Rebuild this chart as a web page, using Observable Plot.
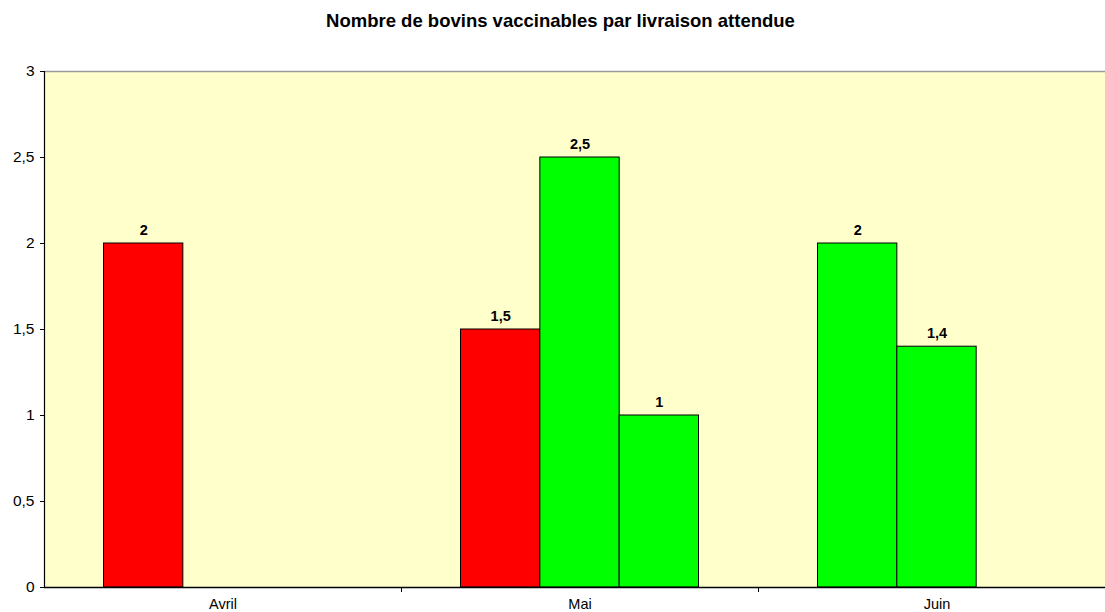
<!DOCTYPE html>
<html>
<head>
<meta charset="utf-8">
<script src="https://cdn.jsdelivr.net/npm/d3@7"></script>
<script src="https://cdn.jsdelivr.net/npm/@observablehq/plot@0.6"></script>
<style>
  html, body { margin: 0; padding: 0; background: #ffffff; overflow: hidden; }
  body { width: 1105px; height: 612px; position: relative; font-family: "Liberation Sans", Arial, sans-serif; }
  #title { position: absolute; top: 11px; left: 0; width: 1105px; padding-left: 16px; box-sizing: border-box;
           text-align: center; font-size: 18.5px; line-height: 20px; font-weight: bold; color: #000; }
  #chart { position: absolute; top: 56px; left: 0; }
</style>
</head>
<body>
<div id="title">Nombre de bovins vaccinables par livraison attendue</div>
<div id="chart"></div>
<script>
// Categories (months) and bars
const months = ["Avril", "Mai", "Juin"];
const barMonth = ["Avril", "Mai", "Mai", "Mai", "Juin", "Juin"];
const barSlot = [0, 0, 1, 2, 0, 1];
const barValue = [2, 1.5, 2.5, 1, 2, 1.4];
const barStatus = ["rouge", "rouge", "vert", "vert", "vert", "vert"];
const yTicks = [0, 0.5, 1, 1.5, 2, 2.5, 3];

const slotsPerGroup = 3;
const gapUnits = 0.75; // outer gap on each side of a group, in bar widths
const groupUnits = slotsPerGroup + 2 * gapUnits;

const data = barMonth.map((m, i) => ({
  mois: m,
  slot: barSlot[i],
  valeur: barValue[i],
  statut: barStatus[i]
}));

const fmt = v => String(v).replace(".", ",");
const gx1 = d => months.indexOf(d.mois) + (gapUnits + d.slot) / groupUnits;
const gx2 = d => months.indexOf(d.mois) + (gapUnits + d.slot + 1) / groupUnits;

const chart = Plot.plot({
  width: 1105,
  height: 556,
  marginLeft: 44,
  marginRight: -10,
  marginTop: 15,
  marginBottom: 25,
  style: { fontFamily: "'Liberation Sans', Arial, sans-serif", background: "transparent", overflow: "visible" },
  x: { type: "linear", domain: [0, months.length] },
  y: { domain: [0, 3] },
  color: { domain: ["rouge", "vert"], range: ["#FF0000", "#00FF00"] },
  marks: [
    Plot.frame({ fill: "#FFFFCC", stroke: null }),
    Plot.ruleY([3], { stroke: "#9a9a9a", strokeWidth: 1.5 }),
    Plot.rectY(data, {
      x1: gx1, x2: gx2, y1: 0, y2: "valeur",
      fill: "statut", stroke: "#000", strokeWidth: 1
    }),
    Plot.text(data, {
      x: d => (gx1(d) + gx2(d)) / 2, y: "valeur",
      text: d => fmt(d.valeur),
      lineAnchor: "bottom", dy: -9,
      fontWeight: "bold", fontSize: 14.5, fill: "#000"
    }),
    Plot.ruleX([0], { stroke: "#000", strokeWidth: 1.2 }),
    Plot.ruleY([0], { stroke: "#000", strokeWidth: 1.5 }),
    Plot.axisY(yTicks, {
      tickSize: 4, tickPadding: 6, tickFormat: fmt,
      fontSize: 15.5, stroke: "#000", fill: "#000", label: null
    }),
    Plot.axisX([1, 2], {
      tickSize: 5, tickFormat: () => "", stroke: "#000", label: null
    }),
    Plot.axisX(months.map((m, i) => i + 0.5), {
      tickSize: 0, tickPadding: 11, tickFormat: v => months[Math.floor(v)],
      fontSize: 14.5, fill: "#000", label: null
    })
  ]
});
document.getElementById("chart").appendChild(chart);
</script>
</body>
</html>
